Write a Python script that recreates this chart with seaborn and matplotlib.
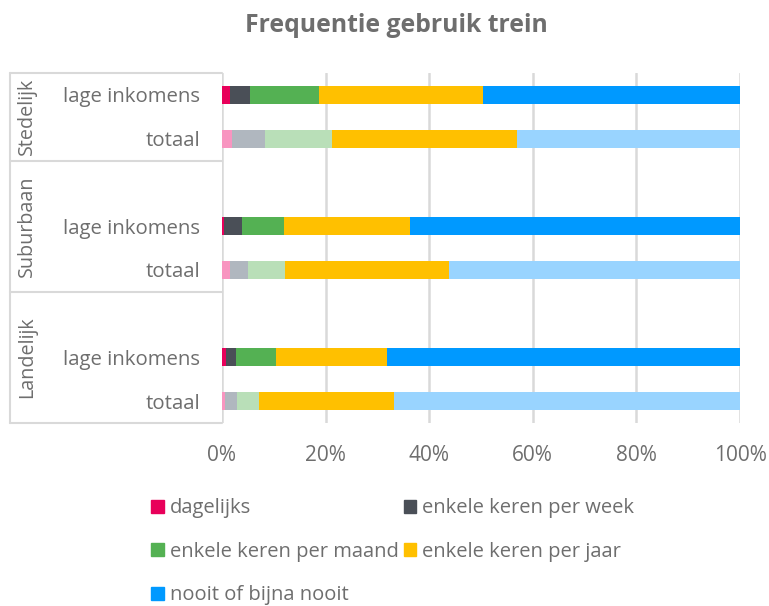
import matplotlib
matplotlib.use("Agg")
import matplotlib.pyplot as plt
import matplotlib.patches as mpatches
import matplotlib.transforms as mtransforms
import numpy as np
import pandas as pd
import seaborn as sns

# ---- data ----
series = ["dagelijks", "enkele keren per week", "enkele keren per maand",
          "enkele keren per jaar", "nooit of bijna nooit"]
groups = ["Stedelijk", "Suburbaan", "Landelijk"]
row_labels = ["lage inkomens", "totaal"]

stedelijk_lage = [1.5, 3.85, 13.45, 31.5, 49.7]
stedelijk_totaal = [2.0, 6.25, 12.95, 35.7, 43.1]
suburbaan_lage = [0.4, 3.5, 8.0, 24.4, 63.7]
suburbaan_totaal = [1.5, 3.5, 7.2, 31.6, 56.2]
landelijk_lage = [0.8, 1.9, 7.7, 21.4, 68.2]
landelijk_totaal = [0.6, 2.2, 4.4, 26.1, 66.7]

dark_colors = ["#E8005A", "#4A4F57", "#54B153", "#FFC000", "#0099FF"]
light_colors = ["#F895C0", "#B0B7BF", "#B9DFB8", "#FFC000", "#99D4FF"]

xticks = [0, 20, 40, 60, 80, 100]
xticklabels = ["0%", "20%", "40%", "60%", "80%", "100%"]

# ---- build table ----
rows = [
    ("Stedelijk", "lage inkomens", stedelijk_lage),
    ("Stedelijk", "totaal", stedelijk_totaal),
    ("Suburbaan", "lage inkomens", suburbaan_lage),
    ("Suburbaan", "totaal", suburbaan_totaal),
    ("Landelijk", "lage inkomens", landelijk_lage),
    ("Landelijk", "totaal", landelijk_totaal),
]
records = []
for g, r, vals in rows:
    cum = np.cumsum(vals)
    for i, s in enumerate(series):
        records.append({"key": f"{g}|{r}", "kind": r, "series": s,
                        "idx": i, "cum": cum[i]})
df = pd.DataFrame(records)

order = ["Stedelijk|lage inkomens", "Stedelijk|totaal",
         "gap1", "Suburbaan|lage inkomens", "Suburbaan|totaal",
         "gap2", "Landelijk|lage inkomens", "Landelijk|totaal"]

TEXT = "#6E6E6E"
GRID = "#D9D9D9"

sns.set_theme(style="white")
plt.rcParams["font.family"] = ["Open Sans", "DejaVu Sans"]

fig = plt.figure(figsize=(7.69, 6.06), dpi=100)
ax = fig.add_axes([222 / 769, 1 - 423 / 606, 518 / 769, 350 / 606])

for i in reversed(range(len(series))):
    sub = df[df["idx"] == i]
    sns.barplot(data=sub, x="cum", y="key", hue="kind", order=order,
                hue_order=row_labels,
                palette={"lage inkomens": dark_colors[i], "totaal": light_colors[i]},
                dodge=False, orient="h", width=0.41, legend=False,
                linewidth=0, saturation=1, ax=ax, zorder=3)

ax.set_xlim(0, 100)
ax.set_ylim(7.5, -0.5)
ax.set_xticks(xticks)
ax.set_xticklabels(xticklabels, color=TEXT, fontsize=15)
ytick_text = ["lage inkomens", "totaal", "", "lage inkomens", "totaal",
              "", "lage inkomens", "totaal"]
ax.set_yticks(range(len(order)))
ax.set_yticklabels(ytick_text, color=TEXT, fontsize=14.7)
ax.tick_params(axis="both", length=0)
ax.tick_params(axis="y", pad=15.5)
ax.tick_params(axis="x", pad=16)
ax.set_xlabel("")
ax.set_ylabel("")
for sp in ax.spines.values():
    sp.set_visible(False)
ax.grid(False)
for xv in xticks:
    ax.axvline(xv, color=GRID, lw=1.8, zorder=1)

# group boxes
trans = mtransforms.blended_transform_factory(ax.transAxes, ax.transData)
xl = (10 - 222) / 518
for yb in [-0.5, 1.5, 4.5, 7.5]:
    ax.plot([xl, 0], [yb, yb], color=GRID, lw=1.5, transform=trans, clip_on=False)
ax.plot([xl, xl], [-0.5, 7.5], color=GRID, lw=1.5, transform=trans, clip_on=False)

xg = (27 - 222) / 518
for g, yc in zip(groups, [0.5, 3.0, 6.0]):
    ax.text(xg, yc, g, rotation=90, ha="center", va="center", color=TEXT,
            fontsize=14.2, transform=trans)

fig.text(396 / 769, 1 - 26 / 606, "Frequentie gebruik trein", ha="center", va="center",
         fontsize=17.8, fontweight="bold", color=TEXT)

handles = [mpatches.Patch(color=c, label=s) for s, c in zip(series, dark_colors)]
legend_order = [0, 2, 4, 1, 3]
leg = fig.legend([handles[i] for i in legend_order],
                 [series[i] for i in legend_order],
                 ncol=2, loc="upper left", bbox_to_anchor=(133 / 769, 1 - 480 / 606),
                 frameon=False, fontsize=14.5, handlelength=0.62, handleheight=0.62,
                 handletextpad=0.3, columnspacing=0.25, labelspacing=1.17,
                 labelcolor=TEXT)

fig.savefig("out.png", dpi=100)
